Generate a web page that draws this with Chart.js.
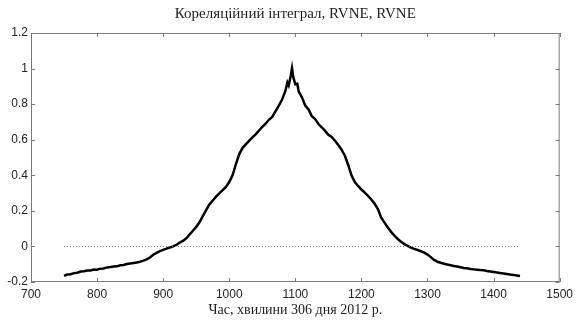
<!DOCTYPE html>
<html>
<head>
<meta charset="utf-8">
<script src="https://cdn.jsdelivr.net/npm/chart.js@4/dist/chart.umd.min.js"></script>
<style>
  body { margin: 0; background: #fff; }
  #wrap { width: 578px; height: 322px; }
</style>
</head>
<body>
<div id="wrap"><canvas id="chartCorr" width="578" height="322"></canvas></div>
<script>
// Час (хвилини доби) і значення кореляційного інтегралу
const minutes = [
  750, 755, 760, 765, 770, 775, 780, 785, 790, 795,
  800, 805, 810, 815, 820, 825, 830, 835, 840, 845,
  850, 855, 860, 865, 870, 875, 880, 885, 890, 895,
  900, 905, 910, 915, 920, 925, 930, 935, 940, 945,
  950, 955, 960, 965, 970, 975, 980, 985, 990, 995,
  1000, 1005, 1010, 1015, 1020, 1025, 1030, 1035, 1040, 1045,
  1050, 1055, 1060, 1065, 1070, 1075, 1080, 1085,
  1088, 1090, 1093, 1095, 1097, 1100, 1103, 1105,
  1110, 1115, 1120, 1125, 1130, 1135, 1140, 1145, 1150, 1155,
  1160, 1165, 1170, 1175, 1180, 1185, 1190, 1195, 1200, 1205,
  1210, 1215, 1220, 1225, 1230, 1235, 1240, 1245, 1250, 1255,
  1260, 1265, 1270, 1275, 1280, 1285, 1290, 1295, 1300, 1305,
  1310, 1315, 1320, 1325, 1330, 1335, 1340, 1345, 1350, 1355,
  1360, 1365, 1370, 1375, 1380, 1385, 1390, 1395, 1400, 1405,
  1410, 1415, 1420, 1425, 1430, 1435, 1440
];
const corr = [
  -0.165, -0.158, -0.156, -0.150, -0.148, -0.141, -0.139, -0.136, -0.135, -0.130,
  -0.131, -0.125, -0.124, -0.118, -0.116, -0.113, -0.112, -0.106, -0.104, -0.099,
  -0.096, -0.093, -0.090, -0.086, -0.080, -0.073, -0.062, -0.047, -0.036, -0.026,
  -0.019, -0.012, -0.006, 0.000, 0.008, 0.022, 0.031, 0.046, 0.067, 0.088,
  0.110, 0.136, 0.170, 0.204, 0.236, 0.258, 0.280, 0.298, 0.316, 0.335,
  0.362, 0.400, 0.462, 0.518, 0.553, 0.574, 0.594, 0.613, 0.630, 0.652,
  0.672, 0.690, 0.712, 0.728, 0.760, 0.792, 0.826, 0.874,
  0.922, 0.905, 0.958, 1.002, 0.950, 0.912, 0.915, 0.872,
  0.838, 0.792, 0.770, 0.732, 0.716, 0.688, 0.670, 0.650, 0.628, 0.616,
  0.594, 0.570, 0.544, 0.510, 0.458, 0.400, 0.362, 0.340, 0.320, 0.302,
  0.284, 0.264, 0.240, 0.210, 0.162, 0.134, 0.106, 0.082, 0.060, 0.042,
  0.026, 0.013, 0.003, -0.007, -0.014, -0.020, -0.027, -0.035, -0.046, -0.060,
  -0.076, -0.086, -0.092, -0.097, -0.102, -0.106, -0.110, -0.113, -0.117, -0.121,
  -0.123, -0.127, -0.129, -0.131, -0.133, -0.134, -0.138, -0.141, -0.144, -0.147,
  -0.150, -0.152, -0.155, -0.158, -0.160, -0.163, -0.166
];
// нульовий рівень (пунктир)
const zeroMinutes = [750, 1440];
const zeroValues = [0, 0];

const xTicks = [700, 800, 900, 1000, 1100, 1200, 1300, 1400, 1500];
const yTicks = [-0.2, 0, 0.2, 0.4, 0.6, 0.8, 1, 1.2];

const titleText = 'Кореляційний інтеграл, RVNE, RVNE';
const xTitleText = 'Час, хвилини 306 дня 2012 р.';

// рамка та внутрішні риски як у MATLAB
const matlabBox = {
    id: 'matlabBox',
    afterDatasetsDraw(chart) {
        const { ctx, chartArea: a, scales } = chart;
        const len = 4;
        ctx.save();
        ctx.strokeStyle = '#7a7a7a';
        ctx.lineWidth = 1;
        ctx.strokeRect(a.left + 0.5, a.top + 0.5, a.right - a.left - 1, a.bottom - a.top - 1);
        ctx.beginPath();
        xTicks.forEach(v => {
            const px = Math.round(scales.x.getPixelForValue(v)) + 0.5;
            ctx.moveTo(px, a.bottom); ctx.lineTo(px, a.bottom - len);
            ctx.moveTo(px, a.top); ctx.lineTo(px, a.top + len);
        });
        yTicks.forEach(v => {
            const py = Math.round(scales.y.getPixelForValue(v)) + 0.5;
            ctx.moveTo(a.left, py); ctx.lineTo(a.left + len, py);
            ctx.moveTo(a.right, py); ctx.lineTo(a.right - len, py);
        });
        ctx.stroke();
        ctx.restore();
    }
};

new Chart(document.getElementById('chartCorr'), {
    type: 'line',
    data: {
        datasets: [
            {
                data: zeroMinutes.map((m, i) => ({ x: m, y: zeroValues[i] })),
                borderColor: '#6a6a6a',
                borderWidth: 1,
                borderDash: [1, 2],
                pointRadius: 0
            },
            {
                data: minutes.map((m, i) => ({ x: m, y: corr[i] })),
                borderColor: '#000000',
                borderWidth: 2.5,
                pointRadius: 0,
                tension: 0
            }
        ]
    },
    options: {
        responsive: false,
        animation: false,
        layout: { padding: { left: 0, right: 13, top: 0, bottom: 0 } },
        plugins: {
            legend: { display: false },
            tooltip: { enabled: false },
            title: {
                display: true,
                text: titleText,
                fullSize: false,
                color: '#222',
                font: { family: 'Liberation Serif', size: 15, weight: 'normal' },
                padding: { top: 5, bottom: 10 }
            }
        },
        scales: {
            x: {
                type: 'linear',
                min: 700,
                max: 1500,
                afterBuildTicks: s => { s.ticks = xTicks.map(v => ({ value: v })); },
                afterFit: s => { s.height = 40; },
                grid: { display: false, drawTicks: false },
                border: { display: false },
                ticks: {
                    color: '#222',
                    padding: 5,
                    maxRotation: 0,
                    font: { family: 'Liberation Sans', size: 12 },
                    callback: v => String(v)
                },
                title: {
                    display: true,
                    text: xTitleText,
                    color: '#222',
                    font: { family: 'Liberation Serif', size: 14 },
                    padding: { top: 0, bottom: 3 }
                }
            },
            y: {
                min: -0.2,
                max: 1.2,
                afterBuildTicks: s => { s.ticks = yTicks.map(v => ({ value: v })); },
                afterFit: s => { s.width = 31; },
                grid: { display: false, drawTicks: false },
                border: { display: false },
                ticks: {
                    color: '#222',
                    padding: 3,
                    font: { family: 'Liberation Sans', size: 12 },
                    callback: v => String(Math.round(v * 10) / 10)
                }
            }
        }
    },
    plugins: [matlabBox]
});
</script>
</body>
</html>
